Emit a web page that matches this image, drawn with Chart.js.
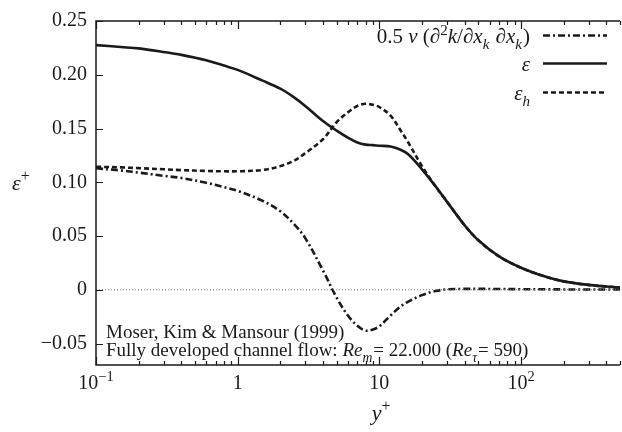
<!DOCTYPE html>
<html>
<head>
<meta charset="utf-8">
<script src="https://cdn.jsdelivr.net/npm/chart.js@4.4.1/dist/chart.umd.min.js"></script>
<style>
  html, body { margin: 0; padding: 0; background: #fff; }
  #wrap { width: 622px; height: 432px; position: relative; }
  .preload { position: absolute; left: -9999px; top: 0; font-family: "Liberation Serif"; font-size: 19px; }
</style>
</head>
<body>
<div id="wrap"><canvas id="chart" width="622" height="432"></canvas></div>
<span class="preload">0.25 Moser <i>&epsilon; y</i></span>
<script>
// y+ positions sampled along the curves
const yPlus = [0.1, 0.15, 0.2, 0.3, 0.4, 0.6, 0.8, 1, 1.5, 2, 2.5, 3, 4, 5, 6, 7, 8, 9, 10,
  12, 14, 16, 20, 25, 30, 40, 50, 70, 100, 150, 200, 300, 400, 500];

// epsilon (total dissipation)
const epsTotal = [0.2276, 0.2258, 0.2245, 0.2212, 0.2185, 0.2135, 0.2085, 0.2045, 0.1945, 0.187, 0.179, 0.171,
  0.157, 0.148, 0.1415, 0.137, 0.135, 0.1345, 0.134, 0.1332, 0.1305, 0.126, 0.112, 0.096, 0.082,
  0.060, 0.046, 0.031, 0.0205, 0.012, 0.0078, 0.0045, 0.003, 0.002];

// epsilon_h (homogeneous dissipation)
const epsHom = [0.1144, 0.1138, 0.1131, 0.1121, 0.1113, 0.1105, 0.1102, 0.1102, 0.1114, 0.115, 0.120, 0.127,
  0.140, 0.156, 0.165, 0.171, 0.173, 0.172, 0.170, 0.162, 0.149, 0.137, 0.115, 0.096, 0.082,
  0.060, 0.046, 0.031, 0.0205, 0.012, 0.0078, 0.0045, 0.003, 0.002];

// 0.5 nu d2k/dxkdxk
const diffusion = [0.113, 0.111, 0.109, 0.106, 0.104, 0.0995, 0.0955, 0.092, 0.0827, 0.073, 0.061, 0.048,
  0.018, -0.0074, -0.024, -0.0335, -0.038, -0.037, -0.034, -0.024, -0.016, -0.011, -0.005, -0.0012, 0.0003,
  0.0008, 0.0008, 0.0007, 0.0005, 0.0004, 0.0003, 0.0002, 0.0002, 0.0002];

const zeroX = [0.1, 500];
const zeroY = [0, 0];

const yTicks = [-0.05, 0, 0.05, 0.10, 0.15, 0.20, 0.25];
const xMajor = [0.1, 1, 10, 100];
const xMajorLabels = [['10', '\u22121'], ['1', ''], ['10', ''], ['10', '2']];

const SERIF = '"Liberation Serif", "Times New Roman", Times, "DejaVu Serif", serif';
const INK = '#1a1a1a';

function fontOf(size, it) { return (it ? 'italic ' : 'normal ') + size + 'px ' + SERIF; }

// rich text: parts are {t, it, pos} with pos 'sup' | 'sub'
function richWidth(ctx, parts, size) {
  let w = 0;
  parts.forEach(p => {
    const s = p.pos ? size * 0.72 : size;
    ctx.font = fontOf(s, p.it);
    w += ctx.measureText(p.t).width + (p.gap || 0);
  });
  return w;
}
function drawRich(ctx, parts, x, y, size, align) {
  const w = richWidth(ctx, parts, size);
  let cx = align === 'right' ? x - w : align === 'center' ? x - w / 2 : x;
  ctx.textAlign = 'left';
  ctx.textBaseline = 'alphabetic';
  parts.forEach(p => {
    const s = p.pos ? size * 0.72 : size;
    ctx.font = fontOf(s, p.it);
    const dy = p.pos === 'sup' ? -size * 0.4 : p.pos === 'sub' ? size * 0.3 : 0;
    ctx.fillText(p.t, cx, y + dy);
    cx += ctx.measureText(p.t).width + (p.gap || 0);
  });
}

const legendItems = [
  { ds: 1, parts: [{t: '0.5 '}, {t: '\u03bd', it: true}, {t: ' (\u2202'}, {t: '2', pos: 'sup'}, {t: 'k', it: true},
    {t: '/\u2202'}, {t: 'x', it: true}, {t: 'k', it: true, pos: 'sub', gap: 1}, {t: ' \u2202'}, {t: 'x', it: true},
    {t: 'k', it: true, pos: 'sub', gap: 1}, {t: ')'}], base: 43 },
  { ds: 2, parts: [{t: '\u03b5', it: true}], base: 71 },
  { ds: 3, parts: [{t: '\u03b5', it: true}, {t: 'h', it: true, pos: 'sub'}], base: 100 }
];

const framePlugin = {
  id: 'frame',
  afterDraw(chart) {
    const ctx = chart.ctx;
    const a = chart.chartArea;
    const xs = chart.scales.x, ys = chart.scales.y;
    ctx.save();
    ctx.strokeStyle = INK;
    ctx.fillStyle = INK;
    ctx.lineWidth = 1.5;
    // spines: left, top, bottom
    ctx.beginPath();
    ctx.moveTo(a.right, a.top); ctx.lineTo(a.left, a.top); ctx.lineTo(a.left, a.bottom); ctx.lineTo(a.right, a.bottom);
    ctx.stroke();
    // x ticks, inward on top and bottom
    ctx.lineWidth = 1.2;
    ctx.beginPath();
    for (let d = 0.1; d < 1000; d *= 10) {
      for (let m = 1; m <= 9; m++) {
        const v = d * m;
        if (v < xs.min || v > xs.max) continue;
        const px = Math.round(xs.getPixelForValue(v)) + 0.5;
        const len = m === 1 ? 8 : 4;
        ctx.moveTo(px, a.top); ctx.lineTo(px, a.top + len);
        ctx.moveTo(px, a.bottom); ctx.lineTo(px, a.bottom - len);
      }
    }
    // y ticks, inward
    yTicks.forEach(v => {
      const py = Math.round(ys.getPixelForValue(v)) + 0.5;
      ctx.moveTo(a.left, py); ctx.lineTo(a.left + 7, py);
    });
    ctx.stroke();
    // x tick labels
    xMajor.forEach((v, i) => {
      const px = xs.getPixelForValue(v);
      const [b, e] = xMajorLabels[i];
      const parts = e ? [{t: b}, {t: e, pos: 'sup'}] : [{t: b}];
      drawRich(ctx, parts, px, 389, 20, 'center');
    });
    // axis titles
    drawRich(ctx, [{t: 'y', it: true}, {t: '+', pos: 'sup'}], (a.left + a.right) / 2 + 23, 420, 22, 'center');
    drawRich(ctx, [{t: '\u03b5', it: true}, {t: '+', pos: 'sup'}], 12, 190, 22, 'left');
    // legend
    legendItems.forEach(item => {
      const ds = chart.data.datasets[item.ds];
      drawRich(ctx, item.parts, 530, item.base, 21, 'right');
      ctx.save();
      ctx.strokeStyle = ds.borderColor;
      ctx.lineWidth = ds.borderWidth;
      ctx.setLineDash(ds.borderDash || []);
      ctx.beginPath();
      ctx.moveTo(543, item.base - 7.5);
      ctx.lineTo(607, item.base - 7.5);
      ctx.stroke();
      ctx.restore();
    });
    // source annotation
    drawRich(ctx, [{t: 'Moser, Kim & Mansour (1999)'}], 106, 338, 19, 'left');
    drawRich(ctx, [{t: 'Fully developed channel flow: '}, {t: 'Re', it: true}, {t: 'm', it: true, pos: 'sub', gap: 1},
      {t: '= 22.000 ('}, {t: 'Re', it: true}, {t: '\u03c4', it: true, pos: 'sub', gap: 1}, {t: '= 590)'}], 106, 356, 19, 'left');
    ctx.restore();
  }
};

const pts = (xv, yv) => xv.map((x, i) => ({x: x, y: yv[i]}));

function build() {
  new Chart(document.getElementById('chart'), {
    type: 'line',
    data: {
      datasets: [
        { data: pts(zeroX, zeroY), borderColor: '#777', borderWidth: 1, borderDash: [1, 2], tension: 0 },
        { data: pts(yPlus, diffusion), borderColor: INK, borderWidth: 2.6, borderDash: [7, 3, 2, 3] },
        { data: pts(yPlus, epsTotal), borderColor: INK, borderWidth: 2.6 },
        { data: pts(yPlus, epsHom), borderColor: INK, borderWidth: 2.6, borderDash: [5, 3] }
      ]
    },
    options: {
      responsive: false,
      animation: false,
      layout: { padding: { top: 13, right: 2, left: 0, bottom: 0 } },
      elements: { point: { radius: 0 }, line: { tension: 0.35, fill: false } },
      plugins: { legend: { display: false }, tooltip: { enabled: false } },
      scales: {
        x: {
          type: 'logarithmic', min: 0.1, max: 500,
          grid: { display: false, drawTicks: false }, border: { display: false },
          ticks: { display: false },
          afterFit(s) { s.height = 67; }
        },
        y: {
          min: -0.07, max: 0.25,
          grid: { display: false, drawTicks: false }, border: { display: false },
          afterBuildTicks(s) { s.ticks = yTicks.map(v => ({value: v})); },
          ticks: {
            padding: 9, color: INK, font: { family: SERIF, size: 20 },
            callback: v => v === 0 ? '0' : (v < 0 ? '\u2212' : '') + Math.abs(v).toFixed(2)
          },
          afterFit(s) { s.width = 96; }
        }
      }
    },
    plugins: [framePlugin]
  });
}

Promise.all([
  document.fonts.load('20px "Liberation Serif"'),
  document.fonts.load('italic 20px "Liberation Serif"')
]).then(build, build);
</script>
</body>
</html>
